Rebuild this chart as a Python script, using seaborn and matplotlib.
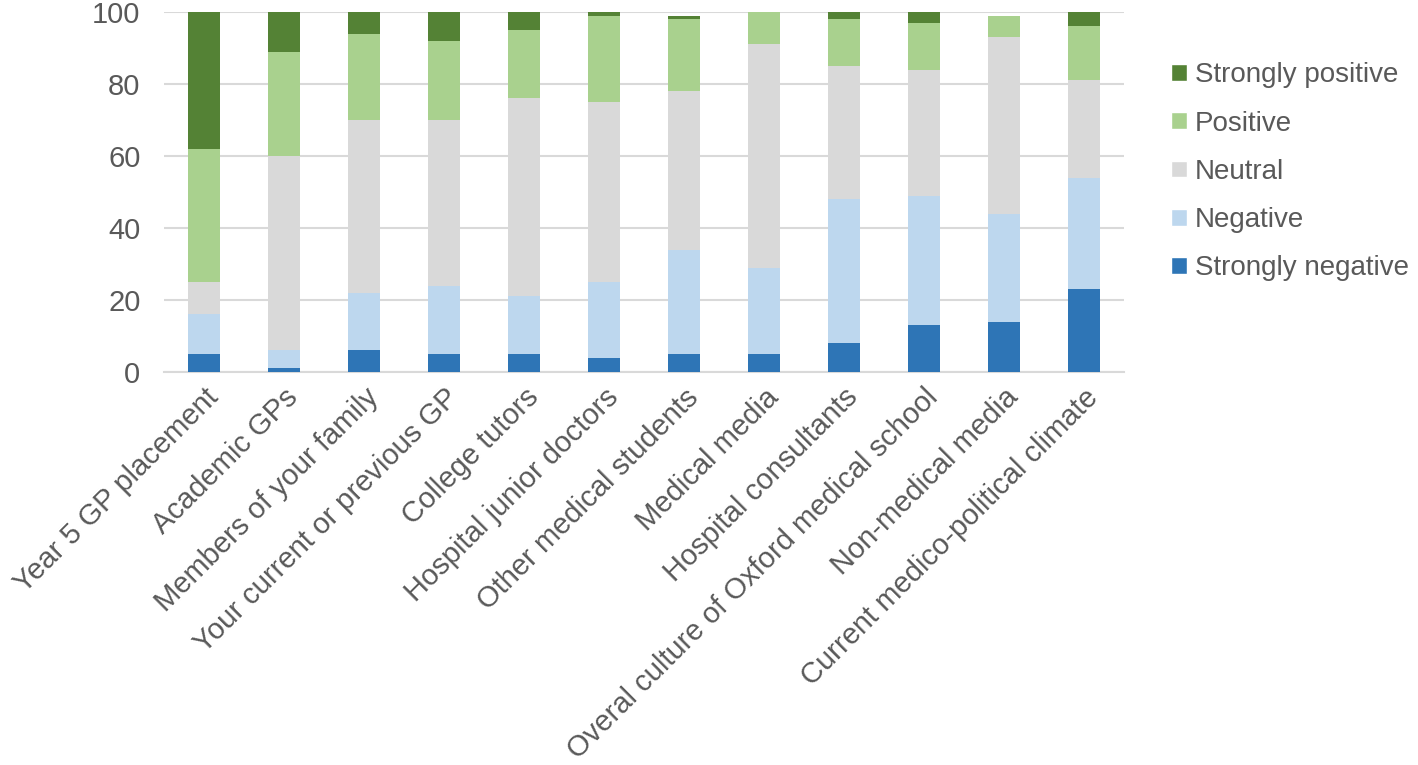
import pandas as pd
import matplotlib
matplotlib.use("Agg")
import matplotlib.pyplot as plt
import seaborn as sns
from matplotlib.patches import Patch

# Survey data (% of respondents per rating)
sources = ["Year 5 GP placement", "Academic GPs", "Members of your family",
           "Your current or previous GP", "College tutors", "Hospital junior doctors",
           "Other medical students", "Medical media", "Hospital consultants",
           "Overal culture of Oxford medical school", "Non-medical media",
           "Current medico-political climate"]
strongly_negative = [5, 1, 6, 5, 5, 4, 5, 5, 8, 13, 14, 23]
negative = [11, 5, 16, 19, 16, 21, 29, 24, 40, 36, 30, 31]
neutral = [9, 54, 48, 46, 55, 50, 44, 62, 37, 35, 49, 27]
positive = [37, 29, 24, 22, 19, 24, 20, 9, 13, 13, 6, 15]
strongly_positive = [38, 11, 6, 8, 5, 1, 1, 0, 2, 3, 0, 4]

levels = ["Strongly negative", "Negative", "Neutral", "Positive", "Strongly positive"]
colors = {"Strongly negative": "#2E75B6", "Negative": "#BDD7EE", "Neutral": "#D9D9D9",
          "Positive": "#A9D18E", "Strongly positive": "#548235"}

df = pd.DataFrame({"Source": sources,
                   "Strongly negative": strongly_negative,
                   "Negative": negative,
                   "Neutral": neutral,
                   "Positive": positive,
                   "Strongly positive": strongly_positive})

# cumulative tops for stacking
cum = df[levels].cumsum(axis=1)

sns.set_style("white")
plt.rcParams["font.family"] = ["Liberation Sans", "DejaVu Sans"]

fig = plt.figure(figsize=(14.18, 7.65), dpi=100)
ax = fig.add_axes([164 / 1418, 1 - 372 / 765, (1124 - 164) / 1418, 360 / 765])

# draw from the top layer down so lower layers cover upper ones
for lvl in reversed(levels):
    sns.barplot(x=df["Source"], y=cum[lvl], color=colors[lvl], width=0.4,
                saturation=1, linewidth=0, ax=ax, zorder=3)

ax.set_ylim(0, 100)
ax.set_xlim(-0.5, len(sources) - 0.5)
ax.set_yticks([0, 20, 40, 60, 80, 100])
ax.yaxis.grid(True, color="#D9D9D9", linewidth=1.5, zorder=0)
ax.set_axisbelow(True)
for s in ["top", "right", "left"]:
    ax.spines[s].set_visible(False)
ax.spines["bottom"].set_color("#D9D9D9")
ax.spines["bottom"].set_linewidth(1.5)
ax.set_xlabel("")
ax.set_ylabel("")
ax.tick_params(axis="both", length=0, labelsize=21, colors="#595959", pad=8)
ax.tick_params(axis="y", pad=17)
plt.setp(ax.get_xticklabels(), rotation=45, ha="right", rotation_mode="anchor")

handles = [Patch(facecolor=colors[l], label=l) for l in reversed(levels)]
fig.legend(handles=handles, loc="upper left", bbox_to_anchor=(1163 / 1418, 1 - 54 / 765),
           frameon=False, fontsize=20, labelcolor="#595959", handlelength=0.55,
           handleheight=0.55, handletextpad=0.3, labelspacing=0.8, borderaxespad=0,
           borderpad=0.3)

fig.savefig("out.png", dpi=100)
